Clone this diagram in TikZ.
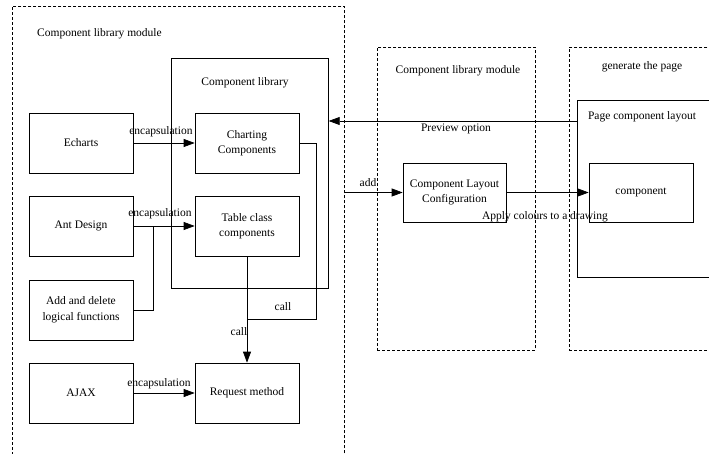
\documentclass[tikz,border=0pt]{standalone}
\usepackage{fontspec}
\setmainfont{Liberation Serif}
\usetikzlibrary{arrows.meta}
\begin{document}
\begin{tikzpicture}[x=1pt,y=-1pt,
  every node/.style={font=\fontsize{11.5}{15.5}\selectfont, inner sep=0pt},
  box/.style={draw, line width=0.7pt, minimum width=104pt, minimum height=60pt, align=center},
  dbox/.style={draw, line width=0.6pt, dash pattern=on 3pt off 2pt},
  sbox/.style={draw, line width=0.7pt},
  link/.style={line width=0.7pt},
  arr/.style={line width=0.7pt, -{Triangle[length=11pt,width=8pt]}},
  lbl/.style={fill=none}
]
\useasboundingbox (0,0) rectangle (709,454);
\clip (0,0) rectangle (709,454);
\fill[white] (0,0) rectangle (709,454);

% dashed module boxes
\node[dbox, minimum width=332pt, minimum height=470pt, anchor=north west] (mod1) at (12,6) {};
\node[dbox, minimum width=158pt, minimum height=303pt, anchor=north west] (mod2) at (377,47) {};
\node[dbox, minimum width=170pt, minimum height=303pt, anchor=north west] (mod3) at (569,47) {};

% solid containers
\node[sbox, minimum width=157pt, minimum height=230pt, anchor=north west] (complib) at (171,58) {};
\node[sbox, minimum width=160pt, minimum height=177pt, anchor=north west] (pagebox) at (577,100) {};

% titles
\node (t1) at (99.5,34) {Component library module};
\node (t2) at (245,83) {Component library};
\node (t3) at (458,71) {Component library module};
\node (t4) at (642,67) {generate the page};
\node (t5) at (642,117) {Page component layout};

% boxes
\node[box] (echarts) at (81,143) {Echarts};
\node[box] (chart) at (247,143) {Charting\\Components};
\node[box] (ant) at (81,226) {Ant Design};
\node[box] (table) at (247,226) {Table class\\components};
\node[box] (adddel) at (81,310) {Add and delete\\logical functions};
\node[box] (ajax) at (81,393) {AJAX};
\node[box] (req) at (247,393) {Request method};
\node[box, minimum width=103pt, minimum height=59pt] (config) at (454.5,192.5) {Component Layout\\Configuration};
\node[box, minimum width=104pt, minimum height=59pt] (comp) at (641,192.5) {component};

% connectors
\draw[arr] (echarts) -- (chart);
\draw[arr] (ant) -- (table);
\coordinate (jn) at (153,0);
\draw[link] (adddel.east) -| (jn |- ant.east);
\draw[arr] (ajax) -- (req);
\draw[arr] (table.south) -- (req.north);
\coordinate (cr) at (316,319);
\draw[link] (chart.east) -| (cr) -- (cr -| table.south);

\coordinate (pvy) at (0,121);
\draw[arr] (pagebox.west |- pvy) -- (complib.east |- pvy);
\draw[arr] (mod1.east |- config.west) -- (config.west);
\draw[arr] (config.east) -- (comp.west);

% labels
\node[lbl] (l1) at (161,132) {encapsulation};
\node[lbl] (l2) at (160,214) {encapsulation};
\node[lbl] (l3) at (159,384) {encapsulation};
\node[lbl] (l4) at (283,307) {call};
\node[lbl] (l5) at (239,332) {call};
\node[lbl] (l6) at (456,129) {Preview option};
\node[lbl] (l7) at (368,183) {add};
\node[lbl] (l8) at (545,217) {Apply colours to a drawing};
\end{tikzpicture}
\end{document}
